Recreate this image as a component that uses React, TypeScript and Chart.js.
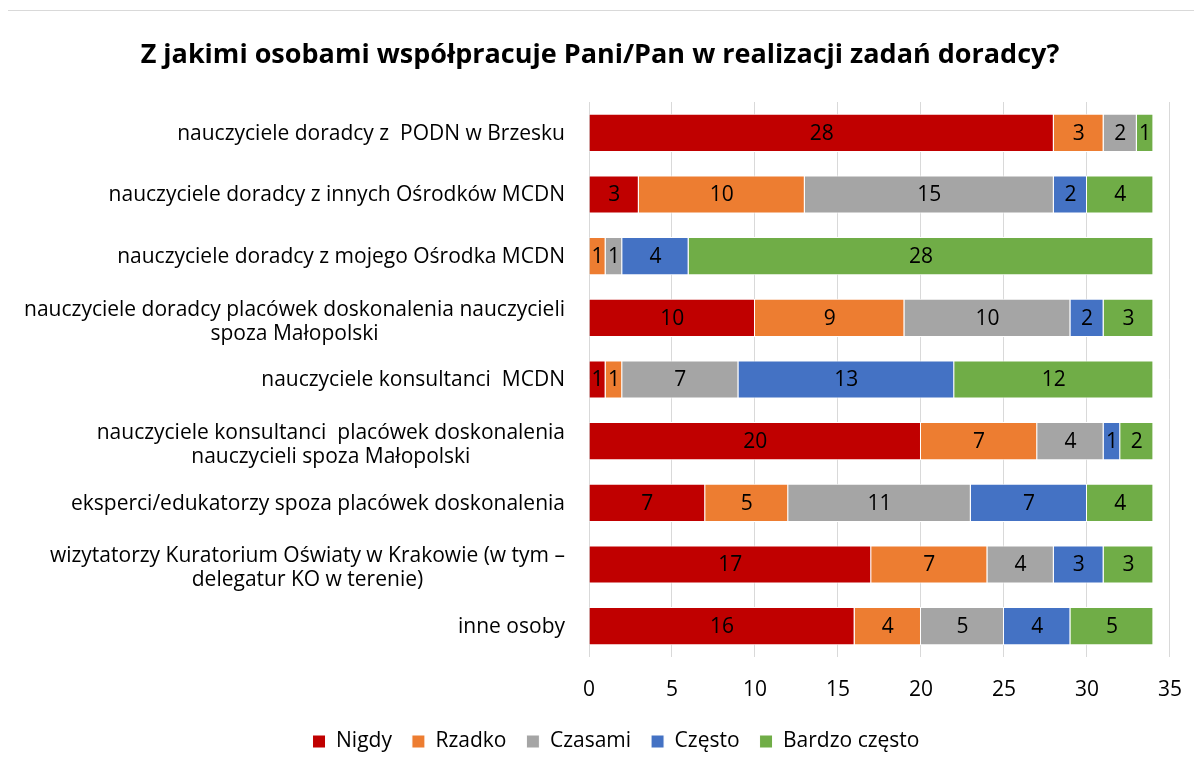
import React, { useEffect, useRef } from "react";
import { Chart, registerables } from "chart.js";

Chart.register(...registerables);

const TITLE = "Z jakimi osobami współpracuje Pani/Pan w realizacji zadań doradcy?";

const categories: (string | string[])[] = [
  "nauczyciele doradcy z  PODN w Brzesku",
  "nauczyciele doradcy z innych Ośrodków MCDN",
  "nauczyciele doradcy z mojego Ośrodka MCDN",
  ["nauczyciele doradcy placówek doskonalenia nauczycieli", "spoza Małopolski"],
  "nauczyciele konsultanci  MCDN",
  ["nauczyciele konsultanci  placówek doskonalenia", "nauczycieli spoza Małopolski"],
  "eksperci/edukatorzy spoza placówek doskonalenia",
  ["wizytatorzy Kuratorium Oświaty w Krakowie (w tym –", "delegatur KO w terenie)"],
  "inne osoby",
];

const seriesNames = ["Nigdy", "Rzadko", "Czasami", "Często", "Bardzo często"];
const seriesColors = ["#C00000", "#ED7D31", "#A5A5A5", "#4472C4", "#70AD47"];

const nigdy = [28, 3, 0, 10, 1, 20, 7, 17, 16];
const rzadko = [3, 10, 1, 9, 1, 7, 5, 7, 4];
const czasami = [2, 15, 1, 10, 7, 4, 11, 4, 5];
const czesto = [0, 2, 4, 2, 13, 1, 7, 3, 4];
const bardzoCzesto = [1, 4, 28, 3, 12, 2, 4, 3, 5];

const xTicks = [0, 5, 10, 15, 20, 25, 30, 35];

const FONT = "'Open Sans', sans-serif";
const FS = 21;

export default function App() {
  const ref = useRef<HTMLCanvasElement | null>(null);

  useEffect(() => {
    if (!ref.current) return;
    const values = [nigdy, rzadko, czasami, czesto, bardzoCzesto];

    const textPlugin = {
      id: "customText",
      afterDatasetsDraw(chart: any) {
        const ctx = chart.ctx;
        ctx.save();
        // data labels
        ctx.font = `${FS}px ${FONT}`;
        ctx.fillStyle = "#000";
        ctx.textAlign = "center";
        ctx.textBaseline = "middle";
        chart.data.datasets.forEach((ds: any, di: number) => {
          const meta = chart.getDatasetMeta(di);
          meta.data.forEach((el: any, i: number) => {
            const v = ds.data[i];
            if (!v) return;
            const c = el.getCenterPoint();
            ctx.fillText(String(v), c.x, c.y + 1);
          });
        });
        // category labels
        const ys = chart.scales.y;
        ctx.font = `${FS}px ${FONT}`;
        const rightEdge = 557;
        categories.forEach((lab, i) => {
          const lines = Array.isArray(lab) ? lab : [lab];
          const blockW = Math.max(...lines.map((l) => ctx.measureText(l).width));
          const cy = ys.getPixelForValue(i) + (lines.length > 1 ? 4 : 1);
          lines.forEach((l, j) => {
            const y = cy + (j - (lines.length - 1) / 2) * 24;
            ctx.fillText(l, rightEdge - blockW / 2, y);
          });
        });
        // title
        ctx.font = `bold 27px ${FONT}`;
        ctx.fillText(TITLE, 592, 44);
        ctx.restore();
      },
    };

    const chart = new Chart(ref.current, {
      type: "bar",
      data: {
        labels: categories.map((c) => (Array.isArray(c) ? c.join(" ") : c)),
        datasets: seriesNames.map((name, k) => ({
          label: name,
          data: values[k],
          backgroundColor: seriesColors[k],
          borderColor: "#ffffff",
          borderWidth: 1,
          barPercentage: 0.62,
          categoryPercentage: 1,
        })),
      },
      options: {
        indexAxis: "y",
        animation: false,
        responsive: false,
        maintainAspectRatio: false,
        layout: { padding: { left: 50, right: 28, top: 91, bottom: 11 } },
        scales: {
          x: {
            stacked: true,
            min: 0,
            max: 35,
            afterBuildTicks: (scale: any) => {
              scale.ticks = xTicks.map((v) => ({ value: v }));
            },
            afterFit: (scale: any) => {
              scale.height = 54;
            },
            grid: { color: "#D9D9D9", drawTicks: false, lineWidth: 1 },
            border: { display: false },
            ticks: {
              color: "#000",
              padding: 20,
              font: { family: FONT, size: FS },
            },
          },
          y: {
            stacked: true,
            afterFit: (scale: any) => {
              scale.width = 531;
            },
            grid: { display: false },
            border: { display: false },
            ticks: { display: false },
          },
        },
        plugins: {
          title: { display: false },
          tooltip: { enabled: false },
          legend: {
            position: "bottom",
            labels: {
              color: "#000",
              boxWidth: 13,
              boxHeight: 13,
              padding: 20,
              font: { family: FONT, size: FS },
            },
          },
        },
      },
      plugins: [textPlugin],
    } as any);
    return () => chart.destroy();
  }, []);

  return (
    <div
      style={{
        marginLeft: -1,
        marginTop: 2,
        width: 1195,
        height: 763,
        borderLeft: "1px solid #D9D9D9",
        borderTop: "1px solid #D9D9D9",
        boxSizing: "border-box",
        background: "#fff",
      }}
    >
      <canvas ref={ref} width={1194} height={762} style={{ display: "block" }} />
    </div>
  );
}
